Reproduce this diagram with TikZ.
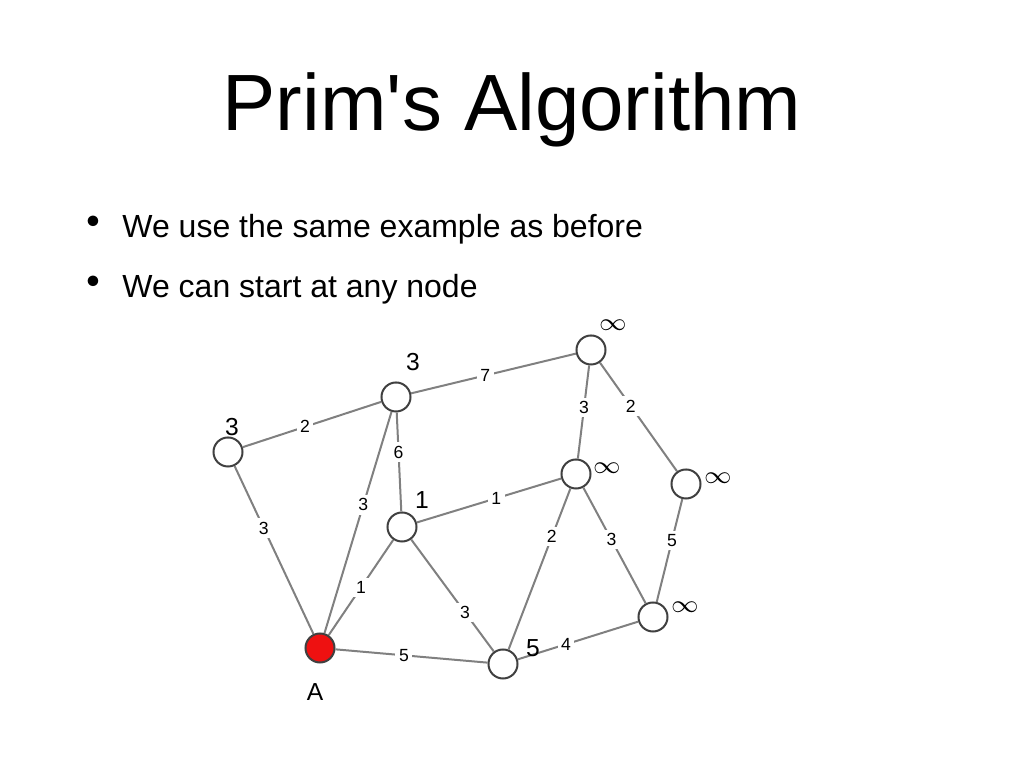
\documentclass[tikz,border=0pt]{standalone}
\usepackage{fontspec}
\setmainfont{Liberation Sans}
\usetikzlibrary{positioning}
\definecolor{nodered}{HTML}{EE1111}

\begin{document}
\begin{tikzpicture}[
  x=0.01cm, y=-0.01cm,
  vertex/.style = {circle, draw=black!75, fill=white, minimum size=0.29cm, inner sep=0pt, line width=.2mm},
  edge/.style = {draw=black!50, line width=.2mm},
  wlab/.style = {fill=white, inner sep=1pt, font=\fontsize{5}{6}\selectfont},
  dist/.style = {font=\fontsize{7}{8}\selectfont, inner sep=0pt},
  bullet/.style = {anchor=west, font=\fontsize{9.1}{11}\selectfont}
  ]
  \useasboundingbox (0,0) rectangle (1024,768);

  \node[font=\fontsize{22.7}{26}\selectfont] (title) at (512,110) {Prim\textquotesingle s Algorithm};
  \node[bullet] (b1) at (110,229) {We use the same example as before};
  \node[bullet] (b2) at (110,289) {We can start at any node};
  \node[font=\fontsize{7}{8}\selectfont] at (93,222) {$\bullet$};
  \node[font=\fontsize{7}{8}\selectfont] at (93,282) {$\bullet$};

  % vertices
  \node[vertex, fill=nodered] (a) at (320,648) {};
  \node[vertex] (b) at (228,452) {};
  \node[vertex] (c) at (396,397) {};
  \node[vertex] (d) at (591,350) {};
  \node[vertex] (e) at (402,527) {};
  \node[vertex] (f) at (576,474) {};
  \node[vertex] (g) at (686,484) {};
  \node[vertex] (h) at (653,617) {};
  \node[vertex] (i) at (503,664) {};

  % edges
  \path[edge] (b) -- node[wlab, pos=.45] {2} (c);
  \path[edge] (b) -- node[wlab, pos=.37] {3} (a);
  \path[edge] (c) -- node[wlab, pos=.42] {3} (a);
  \path[edge] (c) -- node[wlab, pos=.4] {6} (e);
  \path[edge] (c) -- node[wlab, pos=.45] {7} (d);
  \path[edge] (d) -- node[wlab, pos=.45] {3} (f);
  \path[edge] (d) -- node[wlab, pos=.4] {2} (g);
  \path[edge] (e) -- node[wlab, pos=.55] {1} (f);
  \path[edge] (e) -- node[wlab, pos=.5] {1} (a);
  \path[edge] (e) -- node[wlab, pos=.65] {3} (i);
  \path[edge] (f) -- node[wlab, pos=.3] {2} (i);
  \path[edge] (f) -- node[wlab, pos=.45] {3} (h);
  \path[edge] (g) -- node[wlab, pos=.4] {5} (h);
  \path[edge] (a) -- node[wlab, pos=.45] {5} (i);
  \path[edge] (i) -- node[wlab, pos=.4] {4} (h);

  % distance labels
  \node[dist] (la) at (315,692) {A};
  \node[dist] (lb) at (232,427) {3};
  \node[dist] (lc) at (413,362) {3};
  \node[dist] (ld) at (613,325) {$\infty$};
  \node[dist] (le) at (422,500) {1};
  \node[dist] (lf) at (607,468) {$\infty$};
  \node[dist] (lg) at (718,478) {$\infty$};
  \node[dist] (lh) at (685,607) {$\infty$};
  \node[dist] (li) at (533,648) {5};
\end{tikzpicture}
\end{document}
